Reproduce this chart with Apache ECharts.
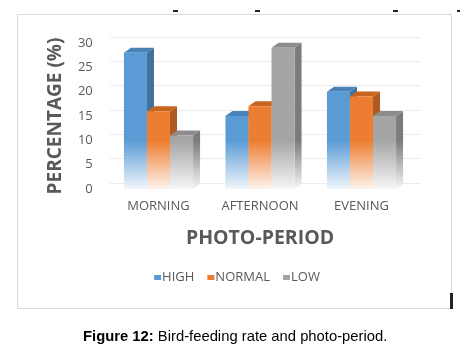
<!DOCTYPE html>
<html><head><meta charset="utf-8">
<script src="https://cdn.jsdelivr.net/npm/echarts@6/dist/echarts.min.js"></script>
<style>html,body{margin:0;padding:0;background:#fff}#c{width:474px;height:364px}</style>
</head><body><div id="c"></div>
<script>
var categories = ['MORNING', 'AFTERNOON', 'EVENING'];
var seriesNames = ['HIGH', 'NORMAL', 'LOW'];
var highValues = [28, 15, 20];
var normalValues = [16, 17, 19];
var lowValues = [11, 29, 15];
var yTicks = [0, 5, 10, 15, 20, 25, 30];

var palette = [
  {front: '#5b9bd5', light: '#f1f6fc', side: '#41719c', top: '#4a81b8'},
  {front: '#ed7d31', light: '#fdf3ec', side: '#ae5a21', top: '#c7651f'},
  {front: '#a5a5a5', light: '#f6f6f6', side: '#7b7b7b', top: '#8c8c8c'}
];
var DX = 7, DY = -5;

function grad(c1, c2, y1, y2) {
  return {type: 'linear', x: 0, y: y1, x2: 0, y2: y2, global: true,
    colorStops: [{offset: 0, color: c1}, {offset: 0.35, color: c1}, {offset: 1, color: c2}]};
}

function makeRender(si) {
  return function (params, api) {
    var cat = api.value(0), val = api.value(1);
    var top = api.coord([cat, val]);
    var base = api.coord([cat, 0]);
    var band = api.size([1, 0])[0];
    var w = band * 0.227;
    var cx = top[0] + (si - 1) * w;
    var x0 = cx - w / 2, x1 = cx + w / 2;
    var yt = top[1], yb = base[1];
    var p = palette[si];
    var gy1 = yb - 75, gy2 = yb;
    return {type: 'group', children: [
      {type: 'polygon', shape: {points: [[x1, yt], [x1 + DX, yt + DY], [x1 + DX, yb + DY], [x1, yb]]},
        style: {fill: grad(p.side, p.light, gy1, gy2)}},
      {type: 'polygon', shape: {points: [[x0, yt], [x0 + DX, yt + DY], [x1 + DX, yt + DY], [x1, yt]]},
        style: {fill: p.top}},
      {type: 'rect', shape: {x: x0, y: yt, width: w, height: yb - yt},
        style: {fill: grad(p.front, p.light, gy1, gy2)}}
    ]};
  };
}

var valueLists = [highValues, normalValues, lowValues];
var series = valueLists.map(function (vals, si) {
  return {
    name: seriesNames[si], type: 'custom', xAxisIndex: 0, yAxisIndex: 0,
    itemStyle: {color: palette[si].front},
    renderItem: makeRender(si),
    encode: {x: 0, y: 1},
    data: vals.map(function (v, i) { return [i, v]; }),
    z: 10
  };
});

var chart = echarts.init(document.getElementById('c'), null, {renderer: 'canvas'});
var lab = {color: '#595959', fontFamily: 'Open Sans', fontSize: 13};
chart.setOption({
  animation: false,
  backgroundColor: '#fff',
  grid: [
    {left: 107.75, right: 61.75, top: 43, bottom: 175},
    {left: 110, right: 54, top: 37, bottom: 181}
  ],
  xAxis: [
    {type: 'category', gridIndex: 0, data: categories,
      axisLine: {show: false}, axisTick: {show: false},
      axisLabel: Object.assign({margin: 11}, lab),
      name: 'PHOTO-PERIOD', nameLocation: 'middle', nameGap: 39,
      nameTextStyle: {color: '#595959', fontFamily: 'Open Sans', fontWeight: 'bold', fontSize: 19.5}},
    {type: 'category', gridIndex: 1, data: categories, show: false}
  ],
  yAxis: [
    {type: 'value', gridIndex: 0, min: yTicks[0], max: yTicks[yTicks.length - 1], interval: 5,
      axisLine: {show: false}, axisTick: {show: false}, splitLine: {show: false},
      axisLabel: Object.assign({margin: 15}, lab),
      name: 'PERCENTAGE (%)', nameLocation: 'middle', nameGap: 43, nameRotate: 90,
      nameTextStyle: {color: '#595959', fontFamily: 'Open Sans', fontWeight: 'bold', fontSize: 19}},
    {type: 'value', gridIndex: 1, min: yTicks[0], max: yTicks[yTicks.length - 1], interval: 5,
      axisLine: {show: false}, axisTick: {show: false}, axisLabel: {show: false},
      splitLine: {show: true, lineStyle: {color: '#ececec', width: 1}}}
  ],
  legend: {
    data: seriesNames, top: 266, left: 'center', icon: 'rect', itemWidth: 7, itemHeight: 5, itemGap: 13,
    textStyle: {color: '#595959', fontFamily: 'Open Sans', fontSize: 13, padding: [0, 0, 0, -4]}
  },
  graphic: [
    {type: 'rect', shape: {x: 17.5, y: 14.5, width: 434, height: 294}, style: {fill: null, stroke: '#d9d9d9', lineWidth: 1}, z: -1},
    {type: 'rect', shape: {x: 173, y: 10, width: 5, height: 2}, style: {fill: '#222'}},
    {type: 'rect', shape: {x: 255, y: 10, width: 5, height: 2}, style: {fill: '#222'}},
    {type: 'rect', shape: {x: 393, y: 10, width: 5, height: 2}, style: {fill: '#222'}},
    {type: 'rect', shape: {x: 457, y: 10, width: 3, height: 2}, style: {fill: '#222'}},
    {type: 'rect', shape: {x: 450, y: 293, width: 3, height: 16}, style: {fill: '#222'}},
    {type: 'text', left: 83, top: 329, style: {
      text: '{b|Figure 12:} Bird-feeding rate and photo-period.',
      fontFamily: 'Liberation Sans', fontSize: 14.8, fill: '#000',
      rich: {b: {fontWeight: 'bold', fontFamily: 'Liberation Sans', fontSize: 14.8, fill: '#000'}}
    }}
  ],
  series: series
});
</script></body></html>
